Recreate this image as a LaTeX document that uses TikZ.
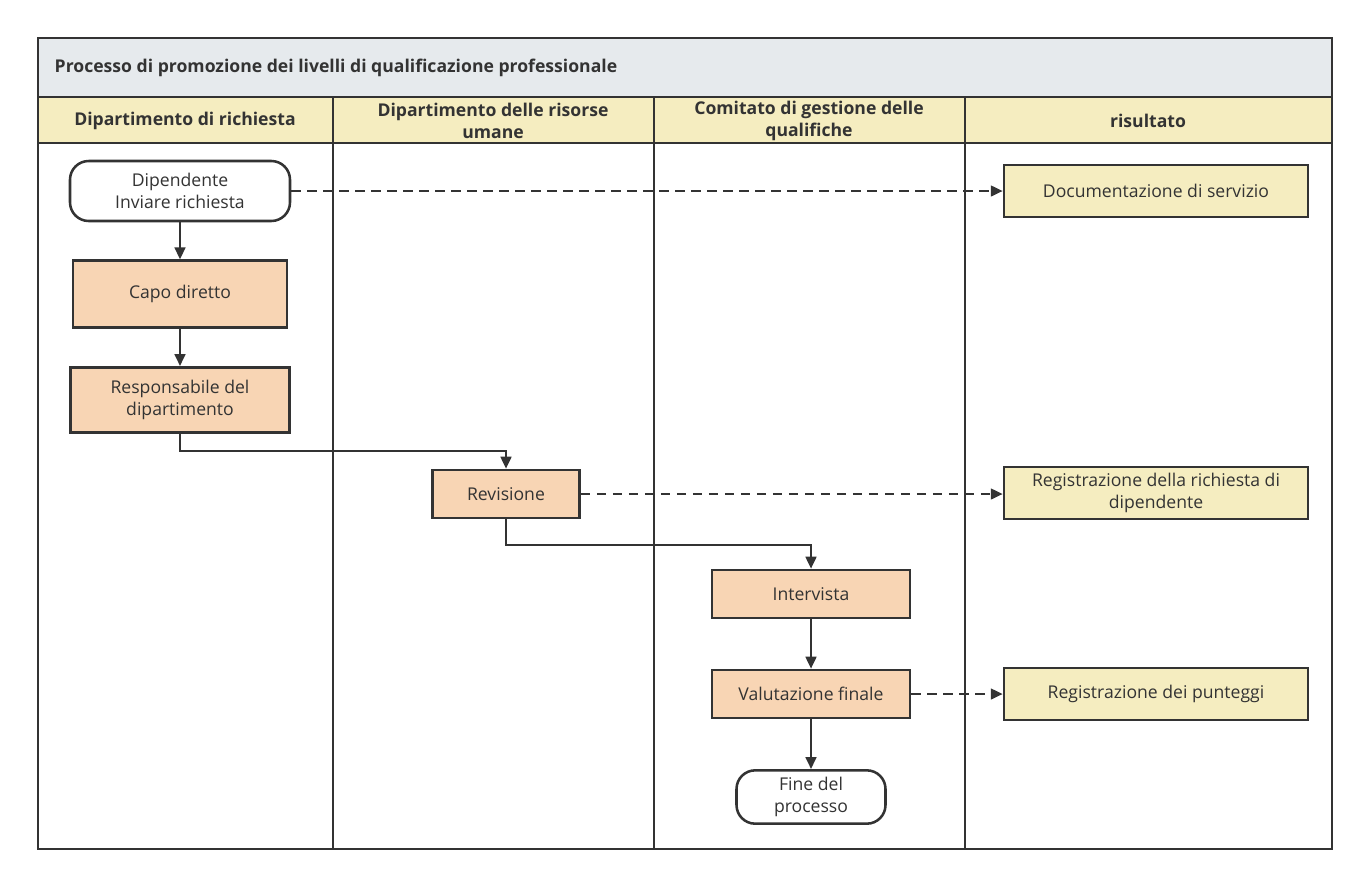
\documentclass[tikz,border=0pt]{standalone}
\usepackage{fontspec}
\setmainfont{Open Sans}
\usetikzlibrary{arrows.meta}
\definecolor{hdr}{HTML}{F5EDC0}
\definecolor{ttl}{HTML}{E6EAED}
\definecolor{proc}{HTML}{F8D5B4}
\definecolor{res}{HTML}{F5EDC0}
\definecolor{ln}{HTML}{333333}
\begin{document}
\begin{tikzpicture}[x=0.75pt,y=-0.75pt,
  box/.style={draw=ln,line width=1.9pt,minimum width=#1*0.75pt,align=center,font=\fontsize{13.2}{16.5}\selectfont,text=ln},
  pr/.style={box=#1,fill=proc},
  rs/.style={box=304,fill=res,minimum height=39pt},
  term/.style={box=#1,fill=white,rounded corners=14pt},
  arr/.style={draw=ln,line width=1.9pt,-{Triangle[length=9pt,width=8pt]}},
  dsh/.style={arr,dash pattern=on 7pt off 5pt},
  hd/.style={font=\fontsize{13.2}{16}\selectfont\bfseries,text=ln,align=center}]
\useasboundingbox (0,0) rectangle (1369,886);
\fill[ttl] (38,38) rectangle (1332,97);
\fill[hdr] (38,97) rectangle (1332,143);
\draw[ln,line width=2.2pt] (38,38) rectangle (1332,849);
\draw[ln,line width=2.2pt] (38,97) -- (1332,97) (38,143) -- (1332,143);
\foreach \x in {333,654,965} \draw[ln,line width=2.2pt] (\x,97) -- (\x,849);
\node[hd,anchor=west] (t) at (50,68) {Processo di promozione dei livelli di qualificazione professionale};
\node[hd] (h1) at (185,121) {Dipartimento di richiesta};
\node[hd] (h2) at (493,121) {Dipartimento delle risorse\\umane};
\node[hd] (h3) at (809,121) {Comitato di gestione delle\\qualifiche};
\node[hd] (h4) at (1148,121) {risultato};

\node[term=220,minimum height=45pt] (dip) at (180,191) {Dipendente\\Inviare richiesta};
\node[pr=214,minimum height=50pt] (capo) at (180,294) {Capo diretto};
\node[pr=219,minimum height=49pt] (resp) at (180,400) {Responsabile del\\dipartimento};
\node[pr=147,minimum height=36pt] (rev) at (506,494) {Revisione};
\node[pr=198,minimum height=36pt] (int) at (811,594) {Intervista};
\node[pr=198,minimum height=36pt] (val) at (811,694) {Valutazione finale};
\node[term=149,minimum height=40pt] (fine) at (811,797) {Fine del\\processo};
\node[rs] (doc) at (1156,191) {Documentazione di servizio};
\node[rs] (rr) at (1156,493) {Registrazione della richiesta di\\dipendente};
\node[rs] (rp) at (1156,694) {Registrazione dei punteggi};

\draw[arr] (dip) -- (capo);
\draw[arr] (capo) -- (resp);
\draw[arr] (resp.south) |- (506,451) -- (rev.north);
\draw[arr] (rev.south) |- (811,545) -- (int.north);
\draw[arr] (int) -- (val);
\draw[arr] (val) -- (fine);
\draw[dsh] (dip) -- (doc);
\draw[dsh] (rev) -- (rr.west |- rev);
\draw[dsh] (val) -- (rp);
\end{tikzpicture}
\end{document}
